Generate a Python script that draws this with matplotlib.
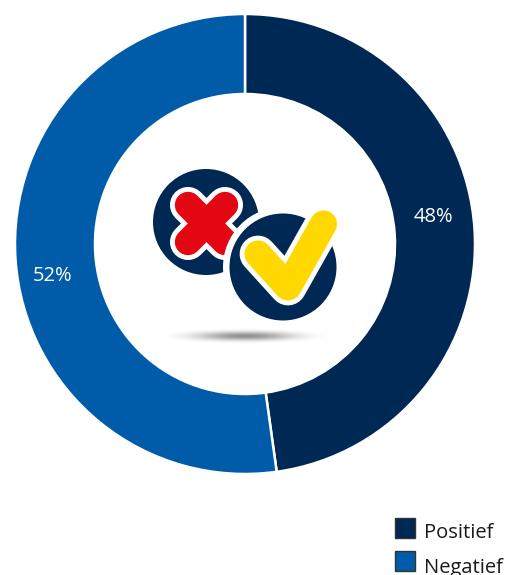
import numpy as np
import matplotlib
matplotlib.use("Agg")
import matplotlib.pyplot as plt
from matplotlib.patches import Circle, Rectangle

categories = ["Positief", "Negatief"]
values = [47.8, 52.2]
colors = ["#002855", "#005CA9"]
value_labels = ["48%", "52%"]

W, H = 506, 575
plt.rcParams['font.family'] = ['Open Sans', 'DejaVu Sans']
fig = plt.figure(figsize=(W / 100, H / 100), dpi=100)
ax = fig.add_axes([0, 0, 1, 1])


def Y(y):
    return H - y


ax.pie(values, colors=colors, startangle=90, counterclock=False,
       center=(245, Y(244)), radius=230,
       wedgeprops=dict(width=80, edgecolor="white", linewidth=1.8))
ax.set_xlim(0, W)
ax.set_ylim(0, H)
ax.set_aspect("equal")
ax.axis("off")

ax.text(433, Y(217), value_labels[0], color="white", fontsize=14.5, ha="center", va="center")
ax.text(53, Y(276), value_labels[1], color="white", fontsize=14.5, ha="center", va="center")

# Icon: shadow
xx, yy = np.meshgrid(np.linspace(-1, 1, 200), np.linspace(-1, 1, 40))
r2 = xx ** 2 + yy ** 2
rgba = np.zeros((40, 200, 4))
rgba[..., :3] = 0.3
rgba[..., 3] = 0.62 * np.exp(-r2 * 2.2) * np.clip(1 - r2, 0, 1)
ax.imshow(rgba, extent=(160, 330, Y(344), Y(328)), zorder=2, aspect="auto", interpolation="bilinear")
ax.set_xlim(0, W)
ax.set_ylim(0, H)

# Icon: cross
ax.add_patch(Circle((206, Y(222)), 53, fc="#002855", ec="none", zorder=3))
x_arms = [((188, 205), (225, 242)), ((225, 205), (188, 242))]
for lw, col, z in [(26, "white", 4), (19, "#E30613", 5)]:
    for a, b in x_arms:
        ax.plot([a[0], b[0]], [Y(a[1]), Y(b[1])], color=col, lw=lw,
                solid_capstyle="round", zorder=z)

# Icon: check
ax.add_patch(Circle((283, Y(267)), 60, fc="white", ec="none", zorder=6))
ax.add_patch(Circle((283, Y(267)), 53.5, fc="#002855", ec="none", zorder=7))
cx = [258, 288, 323.5]
cy = [Y(254), Y(287), Y(224)]
for lw, col, z in [(26.5, "white", 8), (19.5, "#FFD800", 9)]:
    ax.plot(cx, cy, color=col, lw=lw, solid_capstyle="round",
            solid_joinstyle="round", zorder=z)

# Legend
for i, (name, col) in enumerate(zip(categories, colors)):
    top = 518 + 33 * i
    ax.add_patch(Rectangle((395, Y(top + 20)), 20, 20, fc=col, ec="#333333", lw=1, zorder=3))
    ax.text(424, Y(538.5 + 34.5 * i), name, fontsize=14.5, color="#1a1a1a", ha="left",
            va="baseline", clip_on=False)

fig.savefig("out.png", dpi=100, facecolor="white")
